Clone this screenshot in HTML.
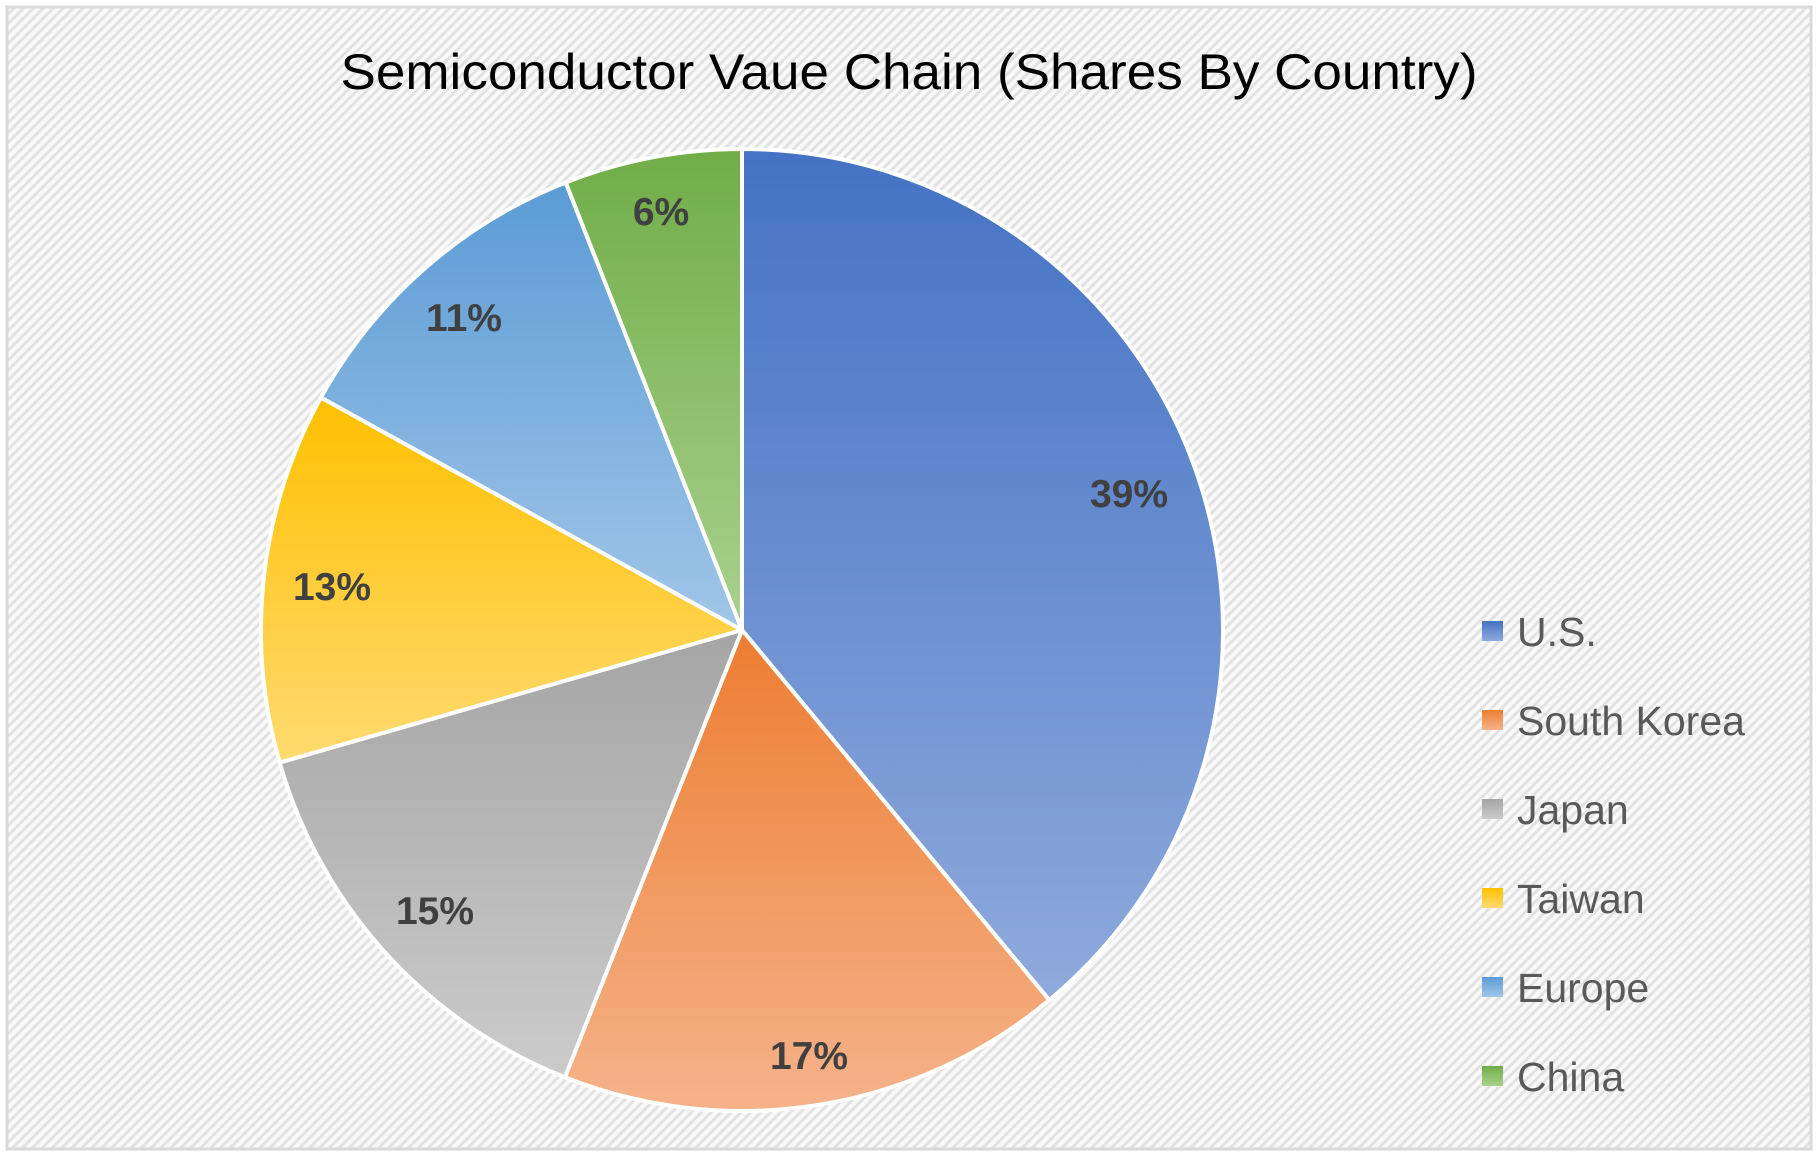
<!DOCTYPE html>
<html><head><meta charset="utf-8"><style>
html,body{margin:0;padding:0;background:#fff;}
body{width:1816px;height:1154px;overflow:hidden;position:relative;}
</style></head><body>
<svg width="1816" height="1154" viewBox="0 0 1816 1154" xmlns="http://www.w3.org/2000/svg">
<defs>
<pattern id="hatch" width="7" height="7" patternUnits="userSpaceOnUse" patternTransform="rotate(-45)">
<rect width="7" height="7" fill="#f9f9f9"/>
<rect width="7" height="3" fill="#e2e2e2"/>
</pattern>
<linearGradient id="g1" x1="0" y1="0" x2="0" y2="1"><stop offset="0" stop-color="#4472c4"/><stop offset="1" stop-color="#8faadc"/></linearGradient>
<linearGradient id="g2" x1="0" y1="0" x2="0" y2="1"><stop offset="0" stop-color="#ed7d31"/><stop offset="1" stop-color="#f5b38a"/></linearGradient>
<linearGradient id="g3" x1="0" y1="0" x2="0" y2="1"><stop offset="0" stop-color="#a5a5a5"/><stop offset="1" stop-color="#cbcbcb"/></linearGradient>
<linearGradient id="g4" x1="0" y1="0" x2="0" y2="1"><stop offset="0" stop-color="#ffc000"/><stop offset="1" stop-color="#ffda70"/></linearGradient>
<linearGradient id="g5" x1="0" y1="0" x2="0" y2="1"><stop offset="0" stop-color="#5b9bd5"/><stop offset="1" stop-color="#a1c6e8"/></linearGradient>
<linearGradient id="g6" x1="0" y1="0" x2="0" y2="1"><stop offset="0" stop-color="#70ad47"/><stop offset="1" stop-color="#a9d18e"/></linearGradient>
</defs>
<rect x="7" y="7" width="1804" height="1142" fill="url(#hatch)" stroke="#d9d9d9" stroke-width="3"/>
<text x="909" y="89" text-anchor="middle" font-family="Liberation Sans, sans-serif" font-size="50" fill="#000" textLength="1137" lengthAdjust="spacingAndGlyphs">Semiconductor Vaue Chain (Shares By Country)</text>
<g stroke="#fff" stroke-width="4" stroke-linejoin="round" id="pie"></g>
<g font-family="Liberation Sans, sans-serif" font-weight="bold" font-size="39" fill="#404040" text-anchor="middle">
<text x="1129" y="507">39%</text>
<text x="809" y="1069">17%</text>
<text x="435" y="924">15%</text>
<text x="332" y="600">13%</text>
<text x="464" y="331">11%</text>
<text x="661" y="225">6%</text>
</g>
<g font-family="Liberation Sans, sans-serif" font-size="41" fill="#595959">
<rect x="1482" y="621" width="21" height="20" fill="url(#g1)"/><text x="1517" y="646">U.S.</text>
<rect x="1482" y="710" width="21" height="20" fill="url(#g2)"/><text x="1517" y="735">South Korea</text>
<rect x="1482" y="799" width="21" height="20" fill="url(#g3)"/><text x="1517" y="824">Japan</text>
<rect x="1482" y="888" width="21" height="20" fill="url(#g4)"/><text x="1517" y="913">Taiwan</text>
<rect x="1482" y="977" width="21" height="20" fill="url(#g5)"/><text x="1517" y="1002">Europe</text>
<rect x="1482" y="1066" width="21" height="20" fill="url(#g6)"/><text x="1517" y="1091">China</text>
</g>
</svg>
<script>
(function(){
var cx=742,cy=630,r=481;
var a=[0,140.3,201.6,254,298.9,338.5,360];
var g=document.getElementById('pie');var s='';
function pt(d){var t=d*Math.PI/180;return [cx+r*Math.sin(t),cy-r*Math.cos(t)];}
for(var i=0;i<6;i++){var p=pt(a[i]),q=pt(a[i+1]);var large=(a[i+1]-a[i])>180?1:0;
s+='<path fill="url(#g'+(i+1)+')" d="M'+cx+','+cy+' L'+p[0].toFixed(2)+','+p[1].toFixed(2)+' A'+r+','+r+' 0 '+large+' 1 '+q[0].toFixed(2)+','+q[1].toFixed(2)+' Z"/>';}
g.innerHTML=s;})();
</script>
</body></html>
